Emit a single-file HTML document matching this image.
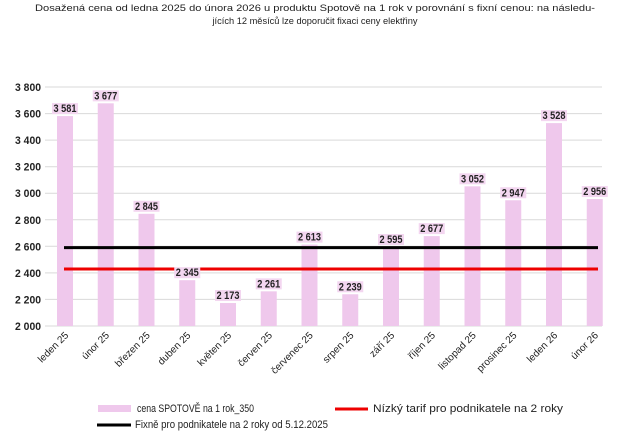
<!DOCTYPE html>
<html><head><meta charset="utf-8"><style>
body{margin:0;background:#fff;}
svg text{font-family:"Liberation Sans Narrow","Liberation Sans",sans-serif;fill:#222;}
</style></head><body>
<svg width="630" height="436" viewBox="0 0 630 436" xmlns="http://www.w3.org/2000/svg">
<text x="315" y="11" text-anchor="middle" font-size="9.5" fill="#333" textLength="560" lengthAdjust="spacingAndGlyphs">Dosažená cena od ledna 2025 do února 2026 u produktu Spotově na 1 rok v porovnání s fixní cenou: na následu-</text>
<text x="315" y="24" text-anchor="middle" font-size="9.5" fill="#333" textLength="205" lengthAdjust="spacingAndGlyphs">jících 12 měsíců lze doporučit fixaci ceny elektřiny</text>
<g stroke="#d9d9d9" stroke-width="1">
<line x1="45" x2="602" y1="87" y2="87"/><line x1="45" x2="602" y1="113.6" y2="113.6"/><line x1="45" x2="602" y1="140.1" y2="140.1"/><line x1="45" x2="602" y1="166.7" y2="166.7"/><line x1="45" x2="602" y1="193.2" y2="193.2"/><line x1="45" x2="602" y1="219.8" y2="219.8"/><line x1="45" x2="602" y1="246.3" y2="246.3"/><line x1="45" x2="602" y1="272.9" y2="272.9"/><line x1="45" x2="602" y1="299.4" y2="299.4"/><line x1="45" x2="602" y1="326" y2="326"/>
</g>
<g font-size="11" text-anchor="end" font-weight="bold">
<text x="41" y="91" textLength="26" lengthAdjust="spacingAndGlyphs">3 800</text><text x="41" y="117.6" textLength="26" lengthAdjust="spacingAndGlyphs">3 600</text><text x="41" y="144.1" textLength="26" lengthAdjust="spacingAndGlyphs">3 400</text><text x="41" y="170.7" textLength="26" lengthAdjust="spacingAndGlyphs">3 200</text><text x="41" y="197.2" textLength="26" lengthAdjust="spacingAndGlyphs">3 000</text><text x="41" y="223.8" textLength="26" lengthAdjust="spacingAndGlyphs">2 800</text><text x="41" y="250.3" textLength="26" lengthAdjust="spacingAndGlyphs">2 600</text><text x="41" y="276.9" textLength="26" lengthAdjust="spacingAndGlyphs">2 400</text><text x="41" y="303.4" textLength="26" lengthAdjust="spacingAndGlyphs">2 200</text><text x="41" y="330" textLength="26" lengthAdjust="spacingAndGlyphs">2 000</text>
</g>
<g id="bars" fill="#efc8ec"></g>
<line x1="64" x2="598" y1="247.6" y2="247.6" stroke="#000" stroke-width="3"/>
<line x1="64" x2="598" y1="269" y2="269" stroke="#e00" stroke-width="3"/>
<g id="labels" font-size="11" text-anchor="middle" font-weight="bold"></g>
<g id="cats" font-size="10" text-anchor="end"></g>
<rect x="98" y="405" width="33" height="7" fill="#efc8ec"/>
<text x="137" y="412" font-size="11" textLength="117" lengthAdjust="spacingAndGlyphs">cena SPOTOVĚ na 1 rok_350</text>
<line x1="335" x2="368" y1="409" y2="409" stroke="#e00" stroke-width="3"/>
<text x="373" y="412" font-size="11" textLength="190" lengthAdjust="spacingAndGlyphs">Nízký tarif pro podnikatele na 2 roky</text>
<line x1="97" x2="131" y1="425" y2="425" stroke="#000" stroke-width="3"/>
<text x="135" y="428" font-size="11" textLength="193" lengthAdjust="spacingAndGlyphs">Fixně pro podnikatele na 2 roky od 5.12.2025</text>
</svg>
<script>
var v=[3581,3677,2845,2345,2173,2261,2613,2239,2595,2677,3052,2947,3528,2956];
var c=["leden 25","únor 25","březen 25","duben 25","květen 25","červen 25","červenec 25","srpen 25","září 25","říjen 25","listopad 25","prosinec 25","leden 26","únor 26"];
var ns="http://www.w3.org/2000/svg";
function y(val){return 326-(val-2000)*239/1800;}
function el(t,a,p,txt){var e=document.createElementNS(ns,t);for(var k in a)e.setAttribute(k,a[k]);if(txt)e.textContent=txt;document.getElementById(p).appendChild(e);return e;}
for(var i=0;i<14;i++){
 var cx=65+i*40.75;
 el("rect",{x:cx-8,y:y(v[i]),width:16,height:326-y(v[i])},"bars");
 var s=v[i].toString();s=s[0]+" "+s.slice(1);
 var ty=y(v[i])-4;
 el("rect",{x:cx-13,y:ty-9,width:26,height:11,fill:"#f3d6f0"},"labels");
 el("text",{x:cx,y:ty,textLength:23,lengthAdjust:"spacingAndGlyphs"},"labels",s);
 el("text",{x:cx+4,y:336,transform:"rotate(-45 "+(cx+4)+" 336)"},"cats",c[i]);
}
</script>
</body></html>
